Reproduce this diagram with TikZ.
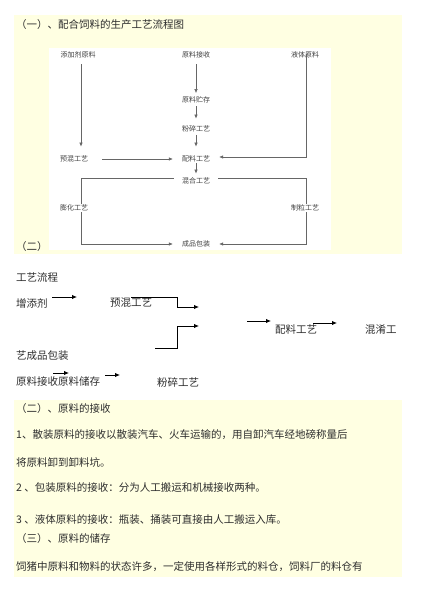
\documentclass[tikz,border=0pt]{standalone}
\usepackage{fontspec}
\setmainfont{Noto Sans CJK SC}
\usetikzlibrary{arrows.meta}
\definecolor{paleyellow}{RGB}{255,255,226}
\definecolor{txt}{RGB}{45,45,45}
\tikzset{
  lbl/.style={font=\fontsize{7}{8}\selectfont, text=black!75, inner sep=1pt, fill=white},
  body/.style={font=\fontsize{10.5}{12}\selectfont, anchor=west, inner sep=0pt, text=txt},
  gline/.style={draw=black!60, line width=0.6pt},
  garrow/.style={gline, -{Latex[length=4pt,width=3.6pt]}},
  farrow/.style={draw=black, line width=0.9pt, -{Latex[length=5pt,width=4.4pt]}},
}
\begin{document}
\begin{tikzpicture}[x=1pt,y=-1pt]
\useasboundingbox (0,0) rectangle (425,601);
\fill[white] (0,0) rectangle (425,601);
% ---------- box 1 ----------
\fill[paleyellow] (14,15) rectangle (402,254);
\fill[white] (49,48) rectangle (331,250);
\node[body] (title1) at (16,25) {（一）、配合饲料的生产工艺流程图};
\node[body] (two) at (16,247) {（二）};

\coordinate (lx) at (81,0);
\coordinate (rx) at (306,0);

\node[lbl] (add)    at (78,55)  {添加剂原料};
\node[lbl] (recv)   at (196,55) {原料接收};
\node[lbl] (liq)    at (305,55) {液体原料};
\node[lbl] (store)  at (196,100) {原料贮存};
\node[lbl] (crush)  at (196,129) {粉碎工艺};
\node[lbl] (premix) at (74,159) {预混工艺};
\node[lbl] (batch)  at (196,159) {配料工艺};
\node[lbl] (mix)    at (196,181) {混合工艺};
\node[lbl] (puff)   at (74,208) {膨化工艺};
\node[lbl] (pellet) at (305,208) {制粒工艺};
\node[lbl] (pack)   at (196,244) {成品包装};

\draw[garrow, shorten <=5pt, shorten >=8pt] (add.south -| lx) -- (premix.north -| lx);
\draw[garrow, shorten <=5pt, shorten >=2.5pt] (recv) -- (store);
\draw[garrow, shorten <=2pt, shorten >=6pt] (store) -- (crush);
\draw[garrow, shorten <=1.5pt, shorten >=8pt] (crush) -- (batch);
\draw[garrow, shorten >=3pt] (batch) -- (mix);
\draw[garrow, shorten <=13pt, shorten >=8pt] (premix.east) -- (batch.west);
\draw[garrow, shorten >=8pt] ([yshift=5pt]liq.south -| rx) |- ([yshift=2pt]batch.east);
% rectangle round mixing
\draw[gline] ([xshift=-7pt,yshift=-2pt]mix.north west) -| (puff.north -| lx);
\draw[garrow, shorten >=8pt] (puff.south -| lx) |- (pack.west);
\draw[gline] ([xshift=7pt,yshift=-2pt]mix.north east) -| (pellet.north -| rx);
\draw[garrow, shorten >=8pt] (pellet.south -| rx) |- (pack.east);

% ---------- flow text ----------
\node[body] (flow)   at (16,277) {工艺流程};
\node[body] (addv)   at (16,303) {增添剂};
\node[body] (pre2)   at (110,303) {预混工艺};
\node[body] (bat2)   at (275,330) {配料工艺};
\node[body] (mix2)   at (365,330) {混淆工};
\node[body] (pack2)  at (16,356) {艺成品包装};
\node[body] (recv2)  at (16,382) {原料接收原料储存};
\node[body] (crush2) at (157,382) {粉碎工艺};

\coordinate (a1s) at (52,297);  \coordinate (a1e) at (77,297);
\coordinate (b1s) at (131,297); \coordinate (b1m) at (177,307); \coordinate (b1e) at (199,307);
\coordinate (b2s) at (155,348); \coordinate (b2m) at (177,326); \coordinate (b2e) at (199,326);
\coordinate (a2s) at (247,321); \coordinate (a2e) at (271,321);
\coordinate (a3s) at (313,323); \coordinate (a3e) at (337,323);
\coordinate (a4s) at (53,373);  \coordinate (a4e) at (69,373);
\coordinate (a5s) at (105,375); \coordinate (a5e) at (120,375);

\draw[farrow] (a1s) -- (a1e);
\draw[farrow] (b1s) -| (b1m) -- (b1e);
\draw[farrow] (b2s) -| (b2m) -- (b2e);
\draw[farrow] (a2s) -- (a2e);
\draw[farrow] (a3s) -- (a3e);
\draw[farrow] (a4s) -- (a4e);
\draw[farrow] (a5s) -- (a5e);

% ---------- box 2 ----------
\fill[paleyellow] (14,400) rectangle (402,577);
\node[body] (s2)  at (16,409) {（二）、原料的接收};
\node[body] (l1)  at (16,435) {1、散装原料的接收以散装汽车、火车运输的，用自卸汽车经地磅称量后};
\node[body] (l1b) at (16,462) {将原料卸到卸料坑。};
\node[body] (l2)  at (16,488) {2 、包装原料的接收：分为人工搬运和机械接收两种。};
\node[body] (l3)  at (16,520) {3 、液体原料的接收：瓶装、捅装可直接由人工搬运入库。};
\node[body] (s3)  at (16,539) {（三）、原料的储存};
\node[body] (l4)  at (16,567) {饲猪中原料和物料的状态许多，一定使用各样形式的料仓，饲料厂的料仓有};
\end{tikzpicture}
\end{document}
